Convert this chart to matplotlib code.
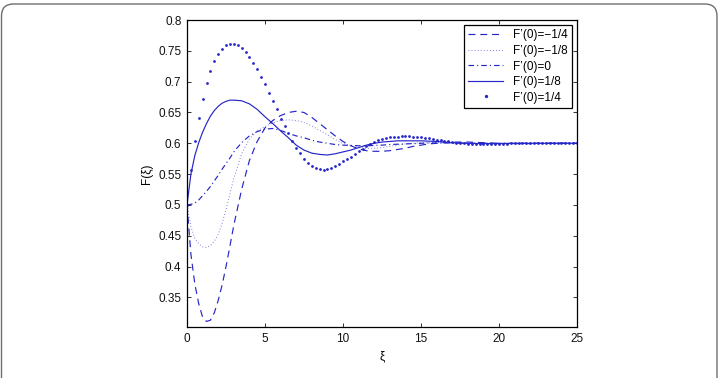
import matplotlib
matplotlib.use("Agg")
import matplotlib.pyplot as plt
from matplotlib.ticker import FormatStrFormatter
from matplotlib.patches import FancyBboxPatch
from matplotlib.transforms import IdentityTransform

plt.rcParams['font.family'] = ['Liberation Sans', 'DejaVu Sans']
plt.rcParams['lines.scale_dashes'] = False

# ---- data ----
labels = ["F\u2019(0)=\u22121/4", "F\u2019(0)=\u22121/8", "F\u2019(0)=0",
          "F\u2019(0)=1/8", "F\u2019(0)=1/4"]

xi_line = [0, 0.25, 0.5, 0.75, 1, 1.25, 1.5, 1.75, 2, 2.25, 2.5, 2.75, 3,
           3.5, 4, 4.5, 5, 5.5, 6, 6.5, 7, 7.5, 8, 8.5, 9, 9.5, 10, 10.5,
           11, 11.5, 12, 12.5, 13, 13.5, 14, 14.5, 15, 15.5, 16,
           17, 18, 19, 20, 21, 22, 23, 24, 25]

f_m14 = [0.500, 0.420, 0.372, 0.340, 0.318, 0.311, 0.313, 0.325, 0.345, 0.370,
         0.400, 0.433, 0.467, 0.525, 0.572, 0.603, 0.625, 0.637, 0.645, 0.650,
         0.652, 0.650, 0.642, 0.632, 0.622, 0.612, 0.603, 0.596, 0.591, 0.588,
         0.587, 0.587, 0.588, 0.590, 0.592, 0.595, 0.597, 0.599, 0.600,
         0.602, 0.602, 0.601, 0.600, 0.5995, 0.5995, 0.600, 0.600, 0.600]

f_m18 = [0.500, 0.465, 0.446, 0.437, 0.432, 0.431, 0.434, 0.441, 0.452, 0.470,
         0.492, 0.518, 0.543, 0.583, 0.607, 0.620, 0.627, 0.633, 0.637, 0.638,
         0.637, 0.634, 0.628, 0.621, 0.614, 0.606, 0.600, 0.596, 0.593, 0.592,
         0.592, 0.593, 0.595, 0.597, 0.599, 0.600, 0.601, 0.601, 0.601,
         0.6005, 0.600, 0.5995, 0.5995, 0.600, 0.600, 0.600, 0.600, 0.600]

f_0 = [0.500, 0.501, 0.503, 0.508, 0.515, 0.522, 0.530, 0.539, 0.548, 0.558,
       0.567, 0.576, 0.586, 0.601, 0.612, 0.619, 0.623, 0.624, 0.621, 0.616,
       0.612, 0.609, 0.605, 0.602, 0.600, 0.598, 0.597, 0.5965, 0.596, 0.596,
       0.5965, 0.597, 0.598, 0.5985, 0.599, 0.5995, 0.600, 0.6005, 0.6005,
       0.6005, 0.600, 0.600, 0.600, 0.600, 0.600, 0.600, 0.600, 0.600]

f_p18 = [0.500, 0.550, 0.580, 0.601, 0.618, 0.632, 0.644, 0.653, 0.660, 0.665,
         0.668, 0.670, 0.670, 0.669, 0.664, 0.655, 0.643, 0.632, 0.620, 0.609,
         0.597, 0.589, 0.584, 0.582, 0.581, 0.583, 0.586, 0.589, 0.593, 0.597,
         0.600, 0.602, 0.603, 0.604, 0.604, 0.604, 0.604, 0.6035, 0.603,
         0.601, 0.600, 0.5995, 0.5995, 0.5998, 0.600, 0.600, 0.600, 0.600]

xi_dots = [i * 0.25 for i in range(101)]
f_p14 = [0.500, 0.557, 0.603, 0.641, 0.672, 0.697, 0.717, 0.733, 0.745, 0.753,
         0.759, 0.761, 0.761, 0.759, 0.755, 0.748, 0.740, 0.731, 0.720, 0.708,
         0.696, 0.682, 0.668, 0.655, 0.640, 0.628, 0.616, 0.604, 0.593, 0.584,
         0.575, 0.568, 0.563, 0.560, 0.558, 0.557, 0.558, 0.560, 0.563, 0.567,
         0.571, 0.574, 0.578, 0.582, 0.587, 0.591, 0.595, 0.599, 0.602, 0.605,
         0.607, 0.609, 0.610, 0.611, 0.611, 0.612, 0.612, 0.612, 0.611, 0.611,
         0.610, 0.609, 0.608, 0.607, 0.606, 0.605, 0.604, 0.603, 0.602, 0.601,
         0.600, 0.600, 0.599, 0.599, 0.599, 0.599, 0.599, 0.599, 0.599, 0.599,
         0.599, 0.599, 0.599, 0.600, 0.600, 0.600, 0.600, 0.600, 0.600, 0.600,
         0.600, 0.600, 0.600, 0.600, 0.600, 0.600, 0.600, 0.600, 0.600, 0.600,
         0.600]

xticks = [0, 5, 10, 15, 20, 25]
yticks = [0.35, 0.4, 0.45, 0.5, 0.55, 0.6, 0.65, 0.7, 0.75, 0.8]

# ---- figure ----
fig = plt.figure(figsize=(7.19, 3.78), dpi=100)
# page frame (pixel coordinates, open at the bottom)
frame = FancyBboxPatch((1.5, -60), 715.5, 434,
                       boxstyle="round,pad=0,rounding_size=12",
                       transform=IdentityTransform(), facecolor='none',
                       edgecolor='#6e6e6e', linewidth=1.0, clip_on=False)
fig.patches.append(frame)

ax = fig.add_axes([187/719, 1-327/378, (577-187)/719, (327-20)/378])
blue = '#2626c8'
lw = 0.85
ax.plot(xi_line, f_m14, color=blue, lw=lw, linestyle=(0, (5.0, 3.5)), label=labels[0])
ax.plot(xi_line, f_m18, color='#6060d8', lw=0.65, linestyle=(0, (0.6, 1.6)), label=labels[1])
ax.plot(xi_line, f_0, color=blue, lw=lw, linestyle=(0, (4.0, 2.2, 0.8, 2.2)), label=labels[2])
ax.plot(xi_line, f_p18, color=blue, lw=lw, linestyle='-', label=labels[3])
ax.plot(xi_dots, f_p14, color=blue, linestyle='none', marker='o', markersize=2.0,
        markeredgewidth=0, label=labels[4])

ax.set_xlim(0, 25)
ax.set_ylim(0.302, 0.8)
ax.set_xticks(xticks)
ax.set_yticks(yticks)
ax.yaxis.set_major_formatter(FormatStrFormatter('%g'))
ax.tick_params(direction='in', top=True, right=True, length=3, width=0.6,
               labelsize=8.5, pad=4, colors='#111111')
for s in ax.spines.values():
    s.set_linewidth(0.9)
ax.set_xlabel("\u03be", fontsize=8.5, labelpad=4)
ax.set_ylabel("F(\u03be)", fontsize=8.5, labelpad=4)

leg = ax.legend(loc='upper right', fontsize=8.5, handlelength=3.0, handletextpad=0.8,
                borderpad=0.35, labelspacing=0.3, fancybox=False, framealpha=1,
                edgecolor='black', borderaxespad=0.45, markerscale=1.2)
leg.get_frame().set_linewidth(0.9)

fig.savefig("out.png", dpi=100)
